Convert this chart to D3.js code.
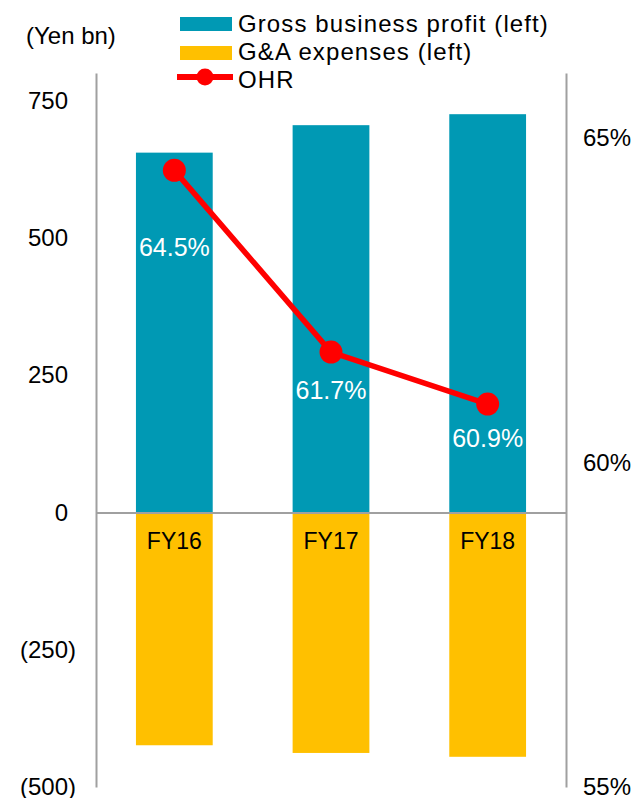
<!DOCTYPE html>
<html>
<head>
<meta charset="utf-8">
<script src="https://cdn.jsdelivr.net/npm/d3@7"></script>
<style>
  body { margin: 0; background: #fff; }
  text { font-family: "Liberation Sans", Arial, sans-serif; }
</style>
</head>
<body>
<main></main>
<script>
// Data
const categories = ["FY16", "FY17", "FY18"];
const grossProfit = [655, 705, 725];
const gaExpenses = [-424, -438, -445];
const ohr = [64.5, 61.7, 60.9];

const leftTicks = [-500, -250, 0, 250, 500, 750];
const rightTicks = [55, 60, 65];

// Dimensions
const width = 635;
const height = 798;
const margin = { top: 73, right: 69, bottom: 11, left: 96 };

const teal = "#0099b4";
const amber = "#ffc000";
const red = "#ff0000";
const grey = "#a0a0a0";

const svg = d3.select("main")
  .append("svg")
  .attr("width", width)
  .attr("height", height);

// Scales
const x = d3.scaleBand()
  .domain(categories)
  .range([margin.left, width - margin.right])
  .padding(0);

const y = d3.scaleLinear()
  .domain([-500, 800])
  .range([height - margin.bottom, margin.top]);

const y2 = d3.scaleLinear()
  .domain([55, 66])
  .range([height - margin.bottom, margin.top]);

const barW = x.bandwidth() * 0.49;
const barX = d => x(d) + (x.bandwidth() - barW) / 2;

// Bars
svg.selectAll(".gross")
  .data(categories)
  .enter()
  .append("rect")
  .attr("class", "gross")
  .attr("x", d => barX(d))
  .attr("y", (d, i) => y(grossProfit[i]))
  .attr("width", barW)
  .attr("height", (d, i) => y(0) - y(grossProfit[i]))
  .attr("fill", teal);

svg.selectAll(".ga")
  .data(categories)
  .enter()
  .append("rect")
  .attr("class", "ga")
  .attr("x", d => barX(d))
  .attr("y", y(0))
  .attr("width", barW)
  .attr("height", (d, i) => y(gaExpenses[i]) - y(0))
  .attr("fill", amber);

// Axes
const parenW = 8;
const leftAxis = svg.append("g")
  .attr("transform", `translate(${margin.left},0)`)
  .call(d3.axisLeft(y)
    .tickValues(leftTicks)
    .tickSize(0)
    .tickPadding(28)
    .tickFormat(d => d < 0 ? `(${Math.abs(d)})` : d));
leftAxis.selectAll("text")
  .attr("dx", d => d < 0 ? parenW : 0);

const rightAxis = svg.append("g")
  .attr("transform", `translate(${width - margin.right},0)`)
  .call(d3.axisRight(y2)
    .tickValues(rightTicks)
    .tickSize(0)
    .tickPadding(17)
    .tickFormat(d => d + "%"));

const zeroAxis = svg.append("g")
  .attr("transform", `translate(0,${y(0)})`)
  .call(d3.axisBottom(x).tickSize(0).tickPadding(20));

[leftAxis, rightAxis, zeroAxis].forEach(g => {
  g.select(".domain").attr("stroke", grey).attr("stroke-width", 2);
  g.selectAll("text")
    .attr("fill", "#000")
    .style("font-size", "24px")
    .style("font-family", "'Liberation Sans', Arial, sans-serif");
});
zeroAxis.selectAll("text").style("font-size", "23px");

// OHR line
const line = d3.line()
  .x((d, i) => x(categories[i]) + x.bandwidth() / 2)
  .y(d => y2(d));

svg.append("path")
  .datum(ohr)
  .attr("d", line)
  .attr("fill", "none")
  .attr("stroke", red)
  .attr("stroke-width", 5.5);

svg.selectAll(".dot")
  .data(ohr)
  .enter()
  .append("circle")
  .attr("class", "dot")
  .attr("cx", (d, i) => x(categories[i]) + x.bandwidth() / 2)
  .attr("cy", d => y2(d))
  .attr("r", 11.5)
  .attr("fill", red);

// data labels (offset below each point)
const labelDy = [86, 47, 43];
svg.selectAll(".lbl")
  .data(ohr)
  .enter()
  .append("text")
  .attr("class", "lbl")
  .attr("x", (d, i) => x(categories[i]) + x.bandwidth() / 2)
  .attr("y", (d, i) => y2(d) + labelDy[i])
  .attr("text-anchor", "middle")
  .attr("fill", "#fff")
  .style("font-size", "25px")
  .text(d => d.toFixed(1) + "%");

// Unit label
svg.append("text")
  .attr("x", 26)
  .attr("y", 44)
  .style("font-size", "24px")
  .text("(Yen bn)");

// Legend
const legend = svg.append("g");
legend.append("rect").attr("x", 180).attr("y", 17).attr("width", 52).attr("height", 14).attr("fill", teal);
legend.append("rect").attr("x", 180).attr("y", 46).attr("width", 52).attr("height", 14).attr("fill", amber);
legend.append("line").attr("x1", 177).attr("x2", 233).attr("y1", 77).attr("y2", 77)
  .attr("stroke", red).attr("stroke-width", 6);
legend.append("circle").attr("cx", 205).attr("cy", 77).attr("r", 8.5).attr("fill", red);

const legendText = ["Gross business profit (left)", "G&A expenses (left)", "OHR"];
legend.selectAll(".ltxt")
  .data(legendText)
  .enter()
  .append("text")
  .attr("class", "ltxt")
  .attr("x", 238)
  .attr("y", (d, i) => 32 + i * 28)
  .style("font-size", "24px")
  .style("letter-spacing", "1.1px")
  .text(d => d);
</script>
</body>
</html>
